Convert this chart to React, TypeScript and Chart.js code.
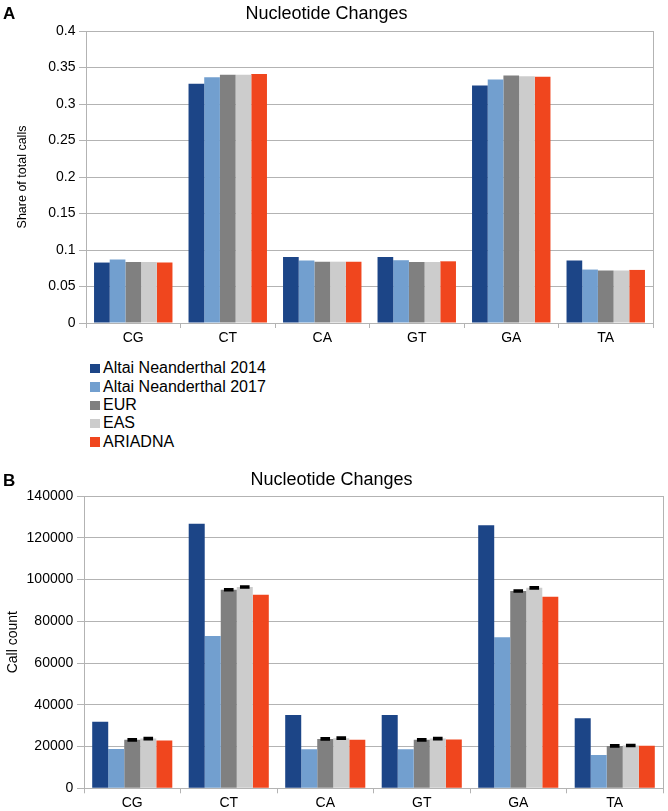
import React, { useEffect, useRef } from 'react';
import { Chart, registerables } from 'chart.js';

Chart.register(...registerables);

const categories = ['CG', 'CT', 'CA', 'GT', 'GA', 'TA'];
const seriesNames = ['Altai Neanderthal 2014', 'Altai Neanderthal 2017', 'EUR', 'EAS', 'ARIADNA'];
const seriesColors = ['#1c4587', '#729fcf', '#808080', '#cccccc', '#f0461e'];

// Panel A: share of total calls
const shareAltai2014 = [0.0828, 0.3277, 0.0905, 0.0905, 0.3255, 0.0855];
const shareAltai2017 = [0.087, 0.3365, 0.0855, 0.086, 0.3337, 0.0732];
const shareEUR = [0.0836, 0.34, 0.084, 0.0836, 0.339, 0.0718];
const shareEAS = [0.0836, 0.34, 0.084, 0.0836, 0.338, 0.0718];
const shareARIADNA = [0.083, 0.341, 0.084, 0.0845, 0.3374, 0.0727];

// Panel B: call count
const countAltai2014 = [31900, 126750, 35150, 35150, 126000, 33600];
const countAltai2017 = [18850, 73000, 18700, 18700, 72400, 16000];
const countEUR = [23200, 95100, 23650, 23200, 94500, 20300];
const countEAS = [23800, 96400, 24000, 23800, 96000, 20500];
const countARIADNA = [22850, 92700, 23200, 23350, 91800, 20400];
const errEUR = [400, 400, 400, 400, 400, 400];
const errEAS = [400, 400, 400, 400, 400, 400];

const ticksA = [0, 0.05, 0.1, 0.15, 0.2, 0.25, 0.3, 0.35, 0.4];
const ticksB = [0, 20000, 40000, 60000, 80000, 100000, 120000, 140000];

const FONT = "'Liberation Sans', Arial, Helvetica, sans-serif";
const GRID = '#b3b3b3';

const errorBarPlugin = {
  id: 'errorBars',
  afterDatasetsDraw(chart: any) {
    const ctx = chart.ctx;
    const yScale = chart.scales.y;
    chart.data.datasets.forEach((ds: any, i: number) => {
      const errs = ds.errors;
      if (!errs) return;
      const meta = chart.getDatasetMeta(i);
      meta.data.forEach((bar: any, j: number) => {
        const v = ds.data[j];
        const e = errs[j];
        const x = bar.x;
        const w = bar.width;
        const yTop = yScale.getPixelForValue(v + e);
        const yBot = yScale.getPixelForValue(v - e);
        ctx.save();
        ctx.strokeStyle = '#000';
        ctx.lineWidth = 1;
        ctx.beginPath();
        ctx.moveTo(x, yTop);
        ctx.lineTo(x, yBot);
        ctx.stroke();
        ctx.lineWidth = 2;
        ctx.beginPath();
        ctx.moveTo(x - w * 0.3, yTop);
        ctx.lineTo(x + w * 0.3, yTop);
        ctx.moveTo(x - w * 0.3, yBot);
        ctx.lineTo(x + w * 0.3, yBot);
        ctx.stroke();
        ctx.restore();
      });
    });
  },
};

const panelLabelPlugin = {
  id: 'panelLabel',
  afterDraw(chart: any, _args: any, opts: any) {
    if (!opts || !opts.text) return;
    const ctx = chart.ctx;
    ctx.save();
    ctx.fillStyle = '#000';
    ctx.font = `bold ${opts.size}px ${FONT}`;
    ctx.textBaseline = 'alphabetic';
    ctx.textAlign = 'left';
    ctx.fillText(opts.text, opts.x, opts.y);
    ctx.restore();
  },
};

function makeDatasets(series: number[][], errors: (number[] | null)[]) {
  return series.map((data, i) => {
    const ds: any = {
      label: seriesNames[i],
      data,
      backgroundColor: seriesColors[i],
      borderWidth: 0,
      categoryPercentage: 0.83,
      barPercentage: 1.0,
    };
    if (errors[i]) ds.errors = errors[i];
    return ds;
  });
}

function makeOptions(cfg: any) {
  return {
    responsive: false,
    animation: false,
    devicePixelRatio: 1,
    layout: { padding: { left: 0, right: cfg.rightPad, top: 0, bottom: 0 } },
    plugins: {
      legend: { display: false },
      tooltip: { enabled: false },
      title: {
        display: true,
        text: 'Nucleotide Changes',
        color: '#000',
        font: { family: FONT, size: 18, weight: 'normal' },
        padding: { top: cfg.titlePadTop, bottom: cfg.titlePadBottom },
      },
      panelLabel: cfg.panel,
    },
    scales: {
      x: {
        type: 'category',
        afterFit: (s: any) => {
          s.height = cfg.xHeight;
        },
        grid: {
          offset: true,
          drawOnChartArea: true,
          drawTicks: true,
          tickLength: 5,
          tickColor: GRID,
          color: (c: any) => (c.type === 'tick' ? 'rgba(0,0,0,0)' : GRID),
        },
        border: { display: true, color: GRID },
        ticks: {
          color: '#000',
          font: { family: FONT, size: 14 },
          padding: cfg.xTickPad,
          maxRotation: 0,
        },
      },
      y: {
        type: 'linear',
        min: cfg.ticks[0],
        max: cfg.ticks[cfg.ticks.length - 1],
        afterFit: (s: any) => {
          s.width = cfg.yWidth;
        },
        afterBuildTicks: (s: any) => {
          s.ticks = cfg.ticks.map((v: number) => ({ value: v }));
        },
        grid: {
          color: GRID,
          tickColor: GRID,
          tickLength: 7,
          drawTicks: true,
        },
        border: { display: true, color: GRID },
        ticks: {
          color: '#000',
          font: { family: FONT, size: 14 },
          padding: cfg.yTickPad,
          callback: cfg.fmt,
        },
        title: {
          display: true,
          text: cfg.yTitle,
          color: '#000',
          font: { family: FONT, size: cfg.yTitleSize },
          padding: { top: cfg.yTitlePad, bottom: 0 },
        },
      },
    },
  };
}

function BarPanel(props: { width: number; height: number; config: any; top: number }) {
  const ref = useRef<HTMLCanvasElement | null>(null);
  useEffect(() => {
    if (!ref.current) return;
    const chart = new Chart(ref.current, props.config);
    return () => chart.destroy();
  }, []);
  return (
    <canvas
      ref={ref}
      width={props.width}
      height={props.height}
      style={{ position: 'absolute', left: 0, top: props.top, width: props.width, height: props.height }}
    />
  );
}

export default function App() {
  const configA: any = {
    type: 'bar',
    data: {
      labels: categories,
      datasets: makeDatasets(
        [shareAltai2014, shareAltai2017, shareEUR, shareEAS, shareARIADNA],
        [null, null, null, null, null]
      ),
    },
    options: makeOptions({
      rightPad: 15,
      titlePadTop: 3,
      titlePadBottom: 6.4,
      xHeight: 30,
      xTickPad: 2,
      yWidth: 86,
      yTickPad: 3.5,
      ticks: ticksA,
      fmt: (v: any) => String(Math.round(Number(v) * 100) / 100),
      yTitle: 'Share of total calls',
      yTitleSize: 12.5,
      yTitlePad: 15.5,
      panel: { text: 'A', x: 3, y: 18.5, size: 17 },
    }),
    plugins: [panelLabelPlugin],
  };

  const configB: any = {
    type: 'bar',
    data: {
      labels: categories,
      datasets: makeDatasets(
        [countAltai2014, countAltai2017, countEUR, countEAS, countARIADNA],
        [null, null, errEUR, errEAS, null]
      ),
    },
    options: makeOptions({
      rightPad: 5,
      titlePadTop: 14.2,
      titlePadBottom: 5.2,
      xHeight: 22.7,
      xTickPad: 1.6,
      yWidth: 84,
      yTickPad: 3.7,
      ticks: ticksB,
      fmt: (v: any) => String(Math.round(Number(v))),
      yTitle: 'Call count',
      yTitleSize: 14,
      yTitlePad: 4.6,
      panel: { text: 'B', x: 3, y: 30.7, size: 17 },
    }),
    plugins: [errorBarPlugin, panelLabelPlugin],
  };

  return (
    <div style={{ position: 'absolute', left: 0, top: 0, width: 668, height: 811, background: '#fff', overflow: 'hidden' }}>
      <BarPanel width={668} height={353} top={0} config={configA} />
      <div
        style={{
          position: 'absolute',
          left: 90,
          top: 359.3,
          fontFamily: FONT,
          fontSize: 16,
          color: '#000',
        }}
      >
        {seriesNames.map((name, i) => (
          <div key={name} style={{ height: 18.4, lineHeight: '18.4px', display: 'flex', alignItems: 'center', whiteSpace: 'nowrap' }}>
            <span style={{ display: 'inline-block', width: 9.5, height: 9.5, background: seriesColors[i], marginRight: 3.5 }} />
            <span>{name}</span>
          </div>
        ))}
      </div>
      <BarPanel width={668} height={356} top={455} config={configB} />
    </div>
  );
}
